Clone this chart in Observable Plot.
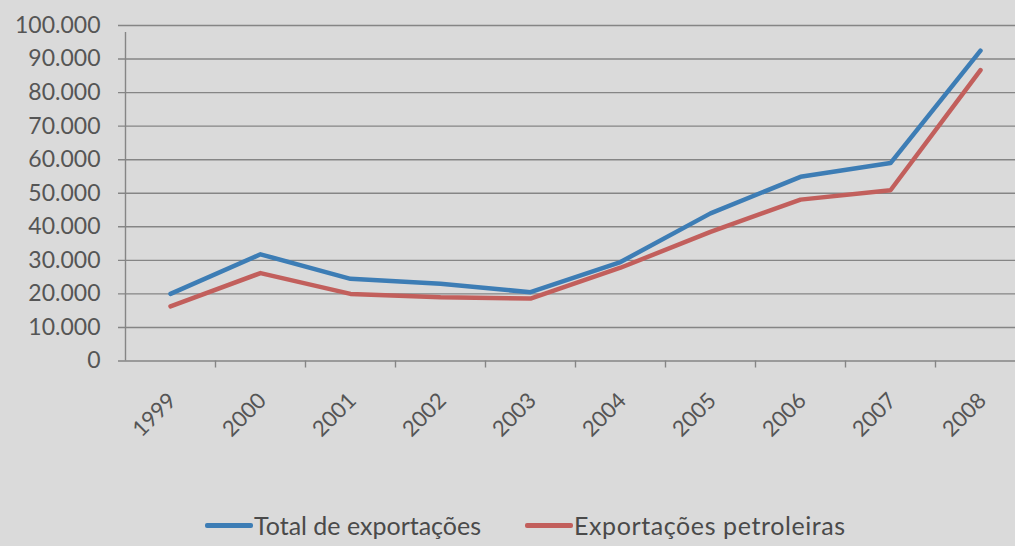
<!DOCTYPE html>
<html>
<head>
<meta charset="utf-8">
<script src="https://cdn.jsdelivr.net/npm/d3@7"></script>
<script src="https://cdn.jsdelivr.net/npm/@observablehq/plot@0.6"></script>
<style>
  html, body { margin: 0; padding: 0; background: #dadada; }
  body { width: 1015px; height: 546px; overflow: hidden; font-family: Lato, "Open Sans", sans-serif; }
  #chart svg { display: block; }
  .legend { display: flex; align-items: center; height: 76px; padding-left: 205px; color: #4a4a4a; font-size: 25px; box-sizing: border-box; padding-top: 34px; }
  .item { display: flex; align-items: center; }
  .item:first-child { width: 320px; }
  .item:last-child span:last-child { letter-spacing: 0.6px; }
  .swatch { width: 48px; height: 5px; border-radius: 2px; margin-right: 1px; }
</style>
</head>
<body>
<div id="chart"></div>
<script>
// Exportações anuais, 1999–2008
const years = ["1999", "2000", "2001", "2002", "2003", "2004", "2005", "2006", "2007", "2008"];
const total = [20000, 31800, 24500, 23000, 20500, 29500, 44000, 54900, 59000, 92500];
const petroleiras = [16300, 26200, 20000, 19000, 18600, 27800, 38500, 48100, 50900, 86700];
const series = ["Total de exportações", "Exportações petroleiras"];
const colors = ["#3d7db5", "#c25f5c"];
const yTicks = [0, 10000, 20000, 30000, 40000, 50000, 60000, 70000, 80000, 90000, 100000];

// Portuguese number format: 100.000
const fmt = d3.formatLocale({decimal: ",", thousands: ".", grouping: [3], currency: ["", ""]}).format(",d");

const rows = years.flatMap((year, i) => [
  {i, year, value: total[i], serie: series[0]},
  {i, year, value: petroleiras[i], serie: series[1]}
]);

// categories sit in the middle of each slot; ticks fall between slots
const slots = d3.range(0, years.length);

const chart = Plot.plot({
  width: 1015,
  height: 470,
  marginLeft: 125,
  marginRight: 0,
  marginTop: 25,
  marginBottom: 109.5,
  style: {background: "transparent", fontFamily: "Lato, 'Open Sans', sans-serif", overflow: "visible"},
  x: {type: "linear", domain: [0, years.length], range: [125, 1025], axis: null},
  y: {domain: [0, 100000], axis: null},
  color: {domain: series, range: colors},
  marks: [
    Plot.ruleY(yTicks, {y: d => d, stroke: "#858585", strokeWidth: 1.4, insetLeft: -7}),
    Plot.ruleX([0], {x: d => d, y1: 0, y2: 100000, stroke: "#858585", strokeWidth: 1.4, insetBottom: -7}),
    Plot.ruleX(slots.slice(1), {x: d => d, y1: 0, y2: 0, stroke: "#858585", strokeWidth: 1.4, insetBottom: -7}),
    Plot.text(yTicks, {y: d => d, text: d => fmt(d), frameAnchor: "left", textAnchor: "end", dx: -25, fontSize: 23, fill: "#555"}),
    Plot.text(years, {x: (d, i) => i + 0.5, y: 0, text: d => d, rotate: -45, textAnchor: "end", lineAnchor: "middle", dx: 2, dy: 36, fontSize: 22, fill: "#555"}),
    Plot.line(rows, {x: d => d.i + 0.5, y: "value", z: "serie", stroke: "serie", strokeWidth: 4.5, strokeLinejoin: "round", strokeLinecap: "round"})
  ]
});
document.getElementById("chart").appendChild(chart);

// legend below the plot
const legend = document.createElement("div");
legend.className = "legend";
series.forEach((s, k) => {
  const item = document.createElement("div");
  item.className = "item";
  const sw = document.createElement("span");
  sw.className = "swatch";
  sw.style.background = colors[k];
  const label = document.createElement("span");
  label.textContent = s;
  item.append(sw, label);
  legend.append(item);
});
document.body.appendChild(legend);
</script>
</body>
</html>
